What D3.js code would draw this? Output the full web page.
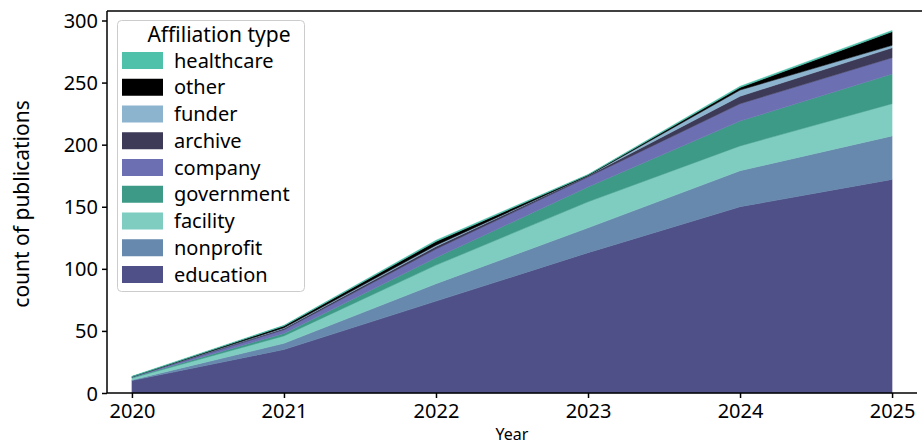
<!DOCTYPE html>
<meta charset="utf-8">
<style>
html, body { margin: 0; padding: 0; background: #fff; }
svg text { font-family: "Noto Sans", sans-serif; fill: #000; }
</style>
<body>
<script src="https://cdn.jsdelivr.net/npm/d3@7"></script>
<script>

var width = 922,
    height = 445;

var margin = {top: 11, left: 107, bottom: 393, right: 917};

// data
var years = [2020, 2021, 2022, 2023, 2024, 2025];
var education  = [10, 35, 74, 113, 150, 172];
var nonprofit  = [0.5, 5, 14, 20, 29, 35];
var facility   = [1.5, 6, 15, 21, 20, 26];
var government = [0.5, 2, 6, 12, 20, 24];
var company    = [0.5, 3, 7, 8, 14, 13];
var archive    = [0, 1, 2, 1, 6, 8];
var funder     = [0, 0.5, 1, 0, 5, 2];
var other      = [0, 1.5, 3, 0.5, 2, 11];
var healthcare = [0.5, 0.5, 1, 0.5, 1, 1];

var seriesNames = ["education", "nonprofit", "facility", "government", "company", "archive", "funder", "other", "healthcare"];
var seriesValues = [education, nonprofit, facility, government, company, archive, funder, other, healthcare];
var seriesColors = ["#4f5088", "#6689ad", "#7fcdc1", "#3d9a87", "#6c70b3", "#3c3a57", "#8db4cf", "#000000", "#4fc1ab"];
var yTicks = [0, 50, 100, 150, 200, 250, 300];

var table = years.map(function(y, i){
  var row = {year: y};
  seriesNames.forEach(function(n, j){ row[n] = seriesValues[j][i]; });
  return row;
});

var svg = d3.select("body").append("svg")
  .attr("width", width)
  .attr("height", height);

var x = d3.scaleLinear().domain([2019.836, 2025.164]).range([margin.left, margin.right]);
var y = d3.scaleLinear().domain([0, 300]).range([margin.bottom, 20.5]);

var stack = d3.stack().keys(seriesNames);
var layers = stack(table);

var area = d3.area()
  .x(function(d){ return x(d.data.year); })
  .y0(function(d){ return y(d[0]); })
  .y1(function(d){ return y(d[1]); });

svg.append("g").selectAll("path")
  .data(layers)
  .enter().append("path")
  .attr("fill", function(d, i){ return seriesColors[i]; })
  .attr("stroke", function(d, i){ return seriesColors[i]; })
  .attr("stroke-width", 0.5)
  .attr("d", area);

// axes
var xAxis = d3.axisBottom(x).tickValues(years).tickFormat(d3.format("d")).tickSize(5).tickSizeOuter(0);
var yAxis = d3.axisLeft(y).tickValues(yTicks).tickSize(5).tickSizeOuter(0);

var gx = svg.append("g").attr("transform", "translate(0," + margin.bottom + ")").call(xAxis);
var gy = svg.append("g").attr("transform", "translate(" + margin.left + ",0)").call(yAxis);

[gx, gy].forEach(function(g){
  g.selectAll("text").style("font-size", "20px").attr("fill", "#000");
  g.selectAll("line").attr("stroke", "#000").attr("stroke-width", 1.5);
  g.select(".domain").remove();
});
gx.selectAll("text").attr("dy", "1em").attr("y", 5);
gy.selectAll("text").attr("x", -9).attr("dy", "0.35em");

// spines: left, bottom, top
svg.append("line").attr("x1", margin.left).attr("x2", margin.left)
  .attr("y1", margin.top).attr("y2", margin.bottom)
  .attr("stroke", "#000").attr("stroke-width", 1.5);
svg.append("line").attr("x1", margin.left).attr("x2", margin.right)
  .attr("y1", margin.bottom).attr("y2", margin.bottom)
  .attr("stroke", "#000").attr("stroke-width", 1.5);
svg.append("line").attr("x1", margin.left).attr("x2", width)
  .attr("y1", margin.top).attr("y2", margin.top)
  .attr("stroke", "#000").attr("stroke-width", 1.5);

svg.append("text")
  .attr("x", (margin.left + margin.right) / 2)
  .attr("y", 440)
  .attr("text-anchor", "middle")
  .style("font-size", "16px")
  .text("Year");

svg.append("text")
  .attr("transform", "translate(29," + ((margin.top + margin.bottom) / 2 + 2) + ") rotate(-90)")
  .attr("text-anchor", "middle")
  .style("font-size", "21px")
  .text("count of publications");

// legend
var legend = svg.append("g");
legend.append("rect")
  .attr("x", 117.5).attr("y", 20.5)
  .attr("width", 187).attr("height", 271)
  .attr("rx", 4)
  .attr("fill", "#fff").attr("fill-opacity", 0.85)
  .attr("stroke", "#ccc");

legend.append("text")
  .attr("x", 219).attr("y", 42)
  .attr("text-anchor", "middle")
  .style("font-size", "21px")
  .text("Affiliation type");

var legendOrder = seriesNames.slice().reverse();
var legendColors = seriesColors.slice().reverse();

var items = legend.selectAll("g.item")
  .data(legendOrder)
  .enter().append("g")
  .attr("class", "item")
  .attr("transform", function(d, i){ return "translate(0," + (60.5 + i * 26.75) + ")"; });

items.append("rect")
  .attr("x", 122).attr("y", -8.5)
  .attr("width", 41).attr("height", 17)
  .attr("fill", function(d, i){ return legendColors[i]; });

items.append("text")
  .attr("x", 174).attr("dy", "0.35em")
  .style("font-size", "20px")
  .text(function(d){ return d; });

</script>
</body>
